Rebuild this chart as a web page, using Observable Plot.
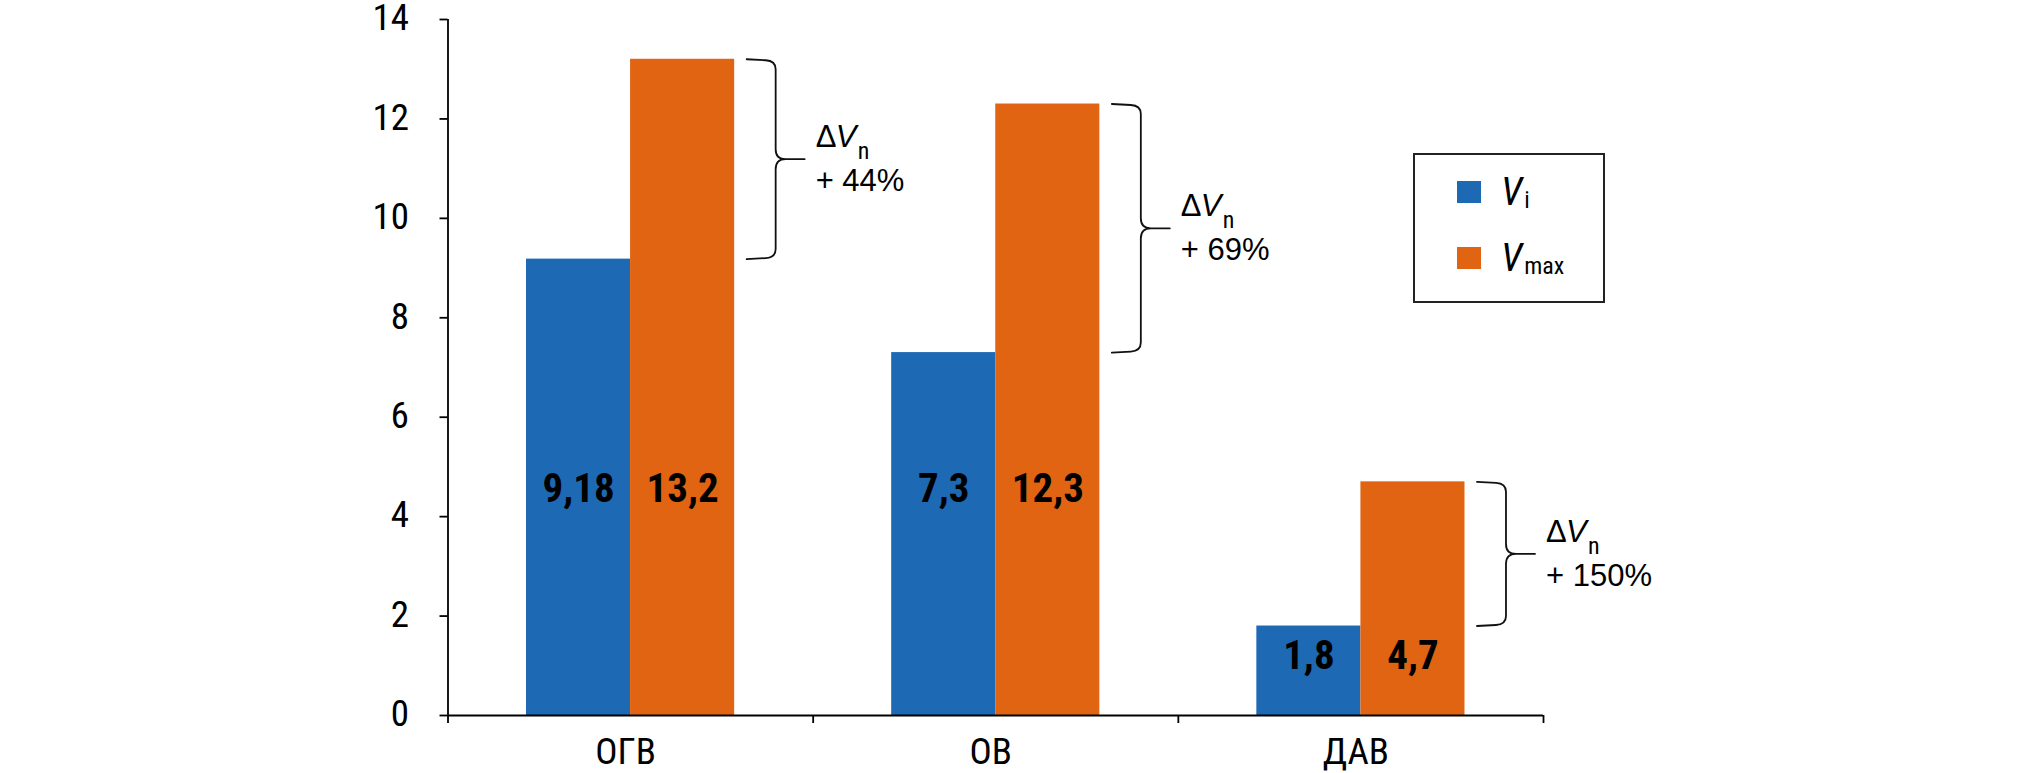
<!DOCTYPE html>
<html><head><meta charset="utf-8">
<script src="https://cdn.jsdelivr.net/npm/d3@7"></script>
<script src="https://cdn.jsdelivr.net/npm/@observablehq/plot@0.6"></script>
<style>
html,body{margin:0;padding:0;background:#fff;}
#wrap{position:relative;width:2031px;height:773px;overflow:hidden;}
#wrap svg{display:block;font-stretch:condensed;}
#legend{position:absolute;left:1413px;top:153px;}
</style></head><body><div id="wrap"></div>
<script>
// ---- data ----
const categories = ["ОГВ", "ОВ", "ДАВ"];
const valuesVi = [9.18, 7.3, 1.8];
const valuesVmax = [13.2, 12.3, 4.7];
const growthLabels = ["+ 44%", "+ 69%", "+ 150%"];
const labelLevels = [4.55, 4.55, 1.2];
const yTicks = [0, 2, 4, 6, 8, 10, 12, 14];
const legendBase = ["V", "V"];
const legendSubs = ["i", "max"];
const deltaParts = ["Δ", "V", "n"];

const BLUE = "#1e69b4";
const ORANGE = "#e06412";
const NARROW = "'Roboto Condensed',Roboto,sans-serif";
const REG = "'Liberation Sans',Arial,sans-serif";
const gp = 0.215; // outer padding of each category group (fraction of band)
const fmt = v => String(v).replace(".", ",");

const rows = categories.map((cat, i) => ({cat, i, vi: valuesVi[i], vmax: valuesVmax[i], growth: growthLabels[i], level: labelLevels[i]}));
const braceRows = rows.flatMap(d => [{cat: d.cat, x: d.i + 1 - gp, y: d.vmax}, {cat: d.cat, x: d.i + 1 - gp, y: d.vi}]);
const annRows = rows.map(d => ({x: d.i + 1 - gp, y: (d.vi + d.vmax) / 2, growth: d.growth}));

// curly brace drawn to the right of a vertical segment
function braceCurve(context) {
  let pts = [];
  return {
    areaStart() {}, areaEnd() {},
    lineStart() { pts = []; },
    point(x, y) { pts.push([+x, +y]); },
    lineEnd() {
      if (pts.length < 2) return;
      const x0 = pts[0][0];
      const top = Math.min(pts[0][1], pts[pts.length - 1][1]);
      const bot = Math.max(pts[0][1], pts[pts.length - 1][1]);
      const mid = (top + bot) / 2;
      const L = x0 + 12, V = x0 + 41, T = x0 + 70, r = 10;
      context.moveTo(L, top);
      context.lineTo(V - r, top + 1);
      context.quadraticCurveTo(V, top + 1.5, V, top + r);
      context.lineTo(V, mid - r);
      context.quadraticCurveTo(V, mid, V + r, mid);
      context.lineTo(T, mid);
      context.lineTo(V + r, mid);
      context.quadraticCurveTo(V, mid, V, mid + r);
      context.lineTo(V, bot - r);
      context.quadraticCurveTo(V, bot - 1.5, V - r, bot - 1);
      context.lineTo(L, bot);
    }
  };
}

const plot = Plot.plot({
  width: 2031, height: 773,
  marginLeft: 447.5, marginRight: 488, marginTop: 19, marginBottom: 58,
  x: {domain: [0, categories.length], label: null},
  y: {domain: [0, 14], label: null},
  style: {fontFamily: NARROW, fontSize: "37px", color: "#000", background: "#fff"},
  marks: [
    Plot.rectY(rows, {x1: d => d.i + gp, x2: d => d.i + 0.5, y1: 0, y2: "vi", fill: BLUE}),
    Plot.rectY(rows, {x1: d => d.i + 0.5, x2: d => d.i + 1 - gp, y1: 0, y2: "vmax", fill: ORANGE}),
    Plot.ruleY([0], {stroke: "#000", strokeWidth: 1.8}),
    Plot.ruleX([0], {y1: 0, y2: 14, stroke: "#000", strokeWidth: 1.8}),
    Plot.axisY({ticks: yTicks, tickSize: 8, tickFormat: () => "", strokeWidth: 1.8, label: null}),
    Plot.axisY({ticks: yTicks, tickSize: 0, tickPadding: 39, dy: -1, fontSize: 37, label: null}),
    Plot.axisX({ticks: d3.range(categories.length + 1), tickSize: 8, tickFormat: () => "", strokeWidth: 1.8, label: null}),
    Plot.axisX({ticks: rows.map(d => d.i + 0.5), tickSize: 0, tickPadding: 22, dx: -5, fontSize: 37,
      tickFormat: v => categories[Math.floor(v)], label: null}),
    Plot.text(rows, {x: d => d.i + (gp + 0.5) / 2, y: "level", text: d => fmt(d.vi), fontSize: 41, fontWeight: "bold", fontFamily: NARROW, fill: "#000"}),
    Plot.text(rows, {x: d => d.i + (1.5 - gp) / 2, y: "level", text: d => fmt(d.vmax), fontSize: 41, fontWeight: "bold", fontFamily: NARROW, fill: "#000"}),
    Plot.line(braceRows, {x: "x", y: "y", z: "cat", curve: braceCurve, stroke: "#111", strokeWidth: 1.8}),
    Plot.text(annRows, {x: "x", y: "y", text: () => deltaParts[0], dx: 81, dy: -12, lineAnchor: "bottom", textAnchor: "start", fontFamily: REG, fontSize: 31, fill: "#000"}),
    Plot.text(annRows, {x: "x", y: "y", text: () => deltaParts[1], dx: 101, dy: -12, lineAnchor: "bottom", textAnchor: "start", fontFamily: REG, fontSize: 31, fontStyle: "italic", fill: "#000"}),
    Plot.text(annRows, {x: "x", y: "y", text: () => deltaParts[2], dx: 123, dy: 0, lineAnchor: "bottom", textAnchor: "start", fontFamily: NARROW, fontSize: 24, fill: "#000"}),
    Plot.text(annRows, {x: "x", y: "y", text: "growth", dx: 81, dy: 32, lineAnchor: "bottom", textAnchor: "start", fontFamily: REG, fontSize: 31, fill: "#000"})
  ]
});
const wrap = document.getElementById("wrap");
wrap.appendChild(plot);

// legend
const colors = [BLUE, ORANGE];
const lg = d3.select(wrap).append("svg").attr("id", "legend").attr("width", 192).attr("height", 150);
lg.append("rect").attr("x", 1).attr("y", 1).attr("width", 190).attr("height", 148)
  .attr("fill", "#fff").attr("stroke", "#222").attr("stroke-width", 2);
legendSubs.forEach((s, k) => {
  const top = 28 + k * 66;
  lg.append("rect").attr("x", 44).attr("y", top).attr("width", 24).attr("height", 22).attr("fill", colors[k]);
  const t = lg.append("text").attr("x", 88).attr("y", top + 24).attr("fill", "#000").attr("font-family", NARROW);
  t.append("tspan").text(legendBase[k]).attr("font-size", 39).attr("font-style", "italic");
  t.append("tspan").text(s).attr("dy", 3).attr("dx", 2).attr("font-size", 24);
});
</script></body></html>
